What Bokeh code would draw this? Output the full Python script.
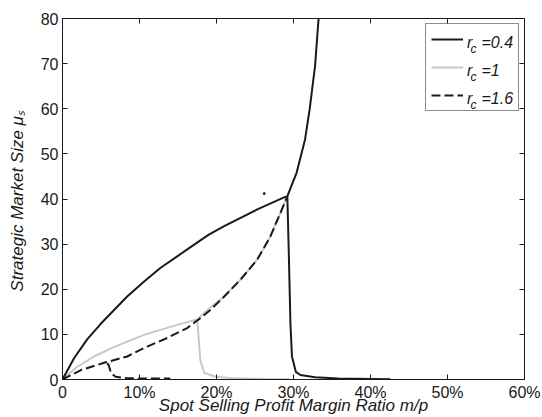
from bokeh.plotting import figure
from bokeh.models import FixedTicker, LinearAxis, Legend, LegendItem, Label, Range1d
from bokeh.embed import file_html
from bokeh.resources import INLINE

# ---------------- data ----------------
x_ticks = [0, 10, 20, 30, 40, 50, 60]
x_tick_labels = ["0", "10%", "20%", "30%", "40%", "50%", "60%"]
y_ticks = [0, 10, 20, 30, 40, 50, 60, 70, 80]
y_tick_labels = ["0", "10", "20", "30", "40", "50", "60", "70", "80"]

x_title = "Spot Selling Profit Margin Ratio m/p"
y_title = "Strategic Market Size  \u03bc\u209b"
legend_values = ["0.4", "1", "1.6"]

# r_c = 0.4 (black solid): rising branch up to the top of the chart
rc04_x = [0, 1.5, 3.2, 5.0, 6.7, 8.4, 10.6, 12.7, 14.9, 17.1, 19.0, 21.0, 25.3, 28.7, 29.2, 29.7, 30.4, 31.5, 32.1, 32.8, 33.3]
rc04_y = [0, 4.7, 8.9, 12.4, 15.4, 18.4, 21.7, 24.7, 27.3, 29.9, 32.1, 34.0, 37.7, 40.3, 40.6, 42.8, 45.8, 53.2, 59.9, 69.5, 81.0]
# r_c = 0.4 descending branch
rc04_b_x = [29.2, 29.4, 29.6, 29.8, 30.3, 30.9, 32.8, 35.8, 42.6]
rc04_b_y = [40.6, 27.3, 12.5, 5.1, 1.7, 1.0, 0.5, 0.2, 0.05]
# stray point
rc04_dot_x = [26.2]
rc04_dot_y = [41.2]

# r_c = 1 (grey solid)
rc1_x = [0, 1.9, 4.1, 6.3, 8.4, 10.6, 12.7, 14.9, 17.5, 17.7, 17.9, 18.4, 19.9, 22.3, 26.0, 29.5]
rc1_y = [0, 2.8, 5.1, 6.9, 8.4, 9.9, 11.0, 12.1, 13.3, 8.8, 4.3, 1.5, 0.6, 0.25, 0.15, 0.1]
rc1_b_x = [17.6, 18.8, 21.0, 23.1, 25.3, 27.0, 28.3, 29.1]
rc1_b_y = [13.4, 15.4, 18.4, 22.1, 26.6, 31.7, 36.9, 40.2]

# r_c = 1.6 (black dashed)
rc16_x = [0, 2.4, 5.4, 8.4, 11.0, 13.6, 16.2, 17.9, 19.2, 21.0, 23.1, 25.3, 27.0, 28.3, 29.1]
rc16_y = [0, 2.1, 3.7, 5.1, 7.3, 9.2, 11.4, 13.6, 15.4, 18.4, 22.1, 26.6, 31.7, 36.9, 40.2]
rc16_b_x = [5.8, 6.0, 6.3, 6.9, 8.4, 11.0, 14.0]
rc16_b_y = [3.6, 3.2, 1.4, 0.6, 0.3, 0.2, 0.2]

# ---------------- layout ----------------
W, H = 542, 417
FL, FR, FT, FB = 62, 524, 18, 380
FONT = "Liberation Sans"
INK = "#1a1a1a"
GREY = "#c8c8c8"


def sx(px):
    return px - FL


def sy(py):
    return FB - py


p = figure(width=W, height=H, x_range=Range1d(0, 60), y_range=Range1d(0, 80),
           output_backend="svg", toolbar_location=None,
           min_border_left=FL, min_border_right=W - FR,
           min_border_top=FT, min_border_bottom=H - FB)
p.xgrid.visible = False
p.ygrid.visible = False
p.outline_line_color = INK
p.outline_line_width = 1
p.background_fill_color = "white"
p.border_fill_color = "white"


def style_axis(ax, ticks, labels, show_labels=True, standoff=4):
    ax.ticker = FixedTicker(ticks=ticks)
    ax.major_label_overrides = {t: l for t, l in zip(ticks, labels)}
    ax.major_tick_in = 5
    ax.major_tick_out = 0
    ax.minor_tick_line_color = None
    ax.major_tick_line_color = INK
    ax.axis_line_color = INK
    ax.major_label_text_font = FONT
    ax.major_label_text_color = INK
    ax.major_label_standoff = standoff
    if show_labels:
        ax.major_label_text_font_size = "16px"
    else:
        ax.major_label_text_font_size = "0px"
        ax.axis_line_color = None


style_axis(p.xaxis[0], x_ticks, x_tick_labels, standoff=4)
style_axis(p.yaxis[0], y_ticks, y_tick_labels, standoff=4)

for ax, title, stand in ((p.xaxis[0], x_title, -8), (p.yaxis[0], y_title, 11)):
    ax.axis_label = title
    ax.axis_label_text_font = FONT
    ax.axis_label_text_font_style = "italic"
    ax.axis_label_text_font_size = "17px"
    ax.axis_label_text_color = INK
    ax.axis_label_standoff = stand

top_ax = LinearAxis()
style_axis(top_ax, x_ticks, ["" for _ in x_ticks], show_labels=False, standoff=0)
p.add_layout(top_ax, "above")
right_ax = LinearAxis()
style_axis(right_ax, y_ticks, ["" for _ in y_ticks], show_labels=False, standoff=0)
p.add_layout(right_ax, "right")

# ---------------- lines ----------------
g1 = p.line(rc1_x, rc1_y, line_color=GREY, line_width=2)
p.line(rc1_b_x, rc1_b_y, line_color=GREY, line_width=2)
d1 = p.line(rc16_x, rc16_y, line_color=INK, line_width=2, line_dash="9 4")
p.line(rc16_b_x, rc16_b_y, line_color=INK, line_width=2, line_dash="9 4")
b1 = p.line(rc04_x, rc04_y, line_color=INK, line_width=2)
p.line(rc04_b_x, rc04_b_y, line_color=INK, line_width=2)
p.scatter(rc04_dot_x, rc04_dot_y, size=2, color=INK)

# ---------------- legend ----------------
legend = Legend(items=[LegendItem(label=" ", renderers=[b1]),
                       LegendItem(label=" ", renderers=[g1]),
                       LegendItem(label=" ", renderers=[d1])],
                location="top_right", margin=5, padding=5, spacing=8,
                glyph_height=20, glyph_width=32, label_standoff=0,
                label_width=50, label_height=20, label_text_font_size="8px",
                border_line_color=INK, border_line_width=1,
                background_fill_alpha=0.0)
p.add_layout(legend)


def add_text(px, py, text, size, italic=True, align="left"):
    lab = Label(x=sx(px), y=sy(py), x_units="screen", y_units="screen",
                text=text, text_font=FONT,
                text_font_style="italic" if italic else "normal",
                text_font_size=size, text_color=INK, text_align=align,
                text_baseline="alphabetic")
    p.add_layout(lab)


for k, v in enumerate(legend_values):
    base = 43.3 + 28 * k
    add_text(466.5, base, "r", "16px")
    add_text(470.0, base + 6.5, "c", "12px")
    add_text(481.0, base, "=" + v, "16px")

open("out.html", "w").write(file_html(p, INLINE))
